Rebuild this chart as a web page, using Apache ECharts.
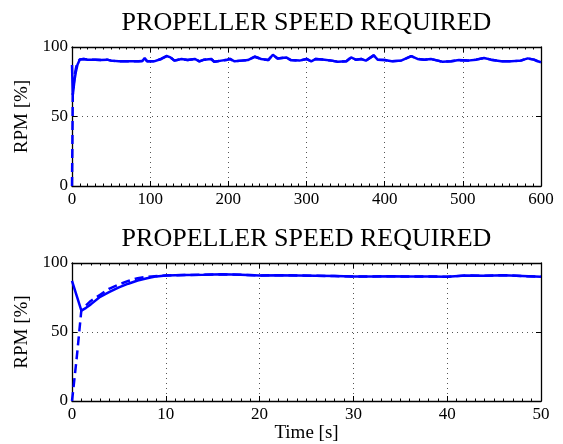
<!DOCTYPE html>
<html>
<head>
<meta charset="utf-8">
<script src="https://cdn.jsdelivr.net/npm/echarts@6/dist/echarts.min.js"></script>
<style>
  html, body { margin: 0; padding: 0; background: #fff; }
  #chart { width: 563px; height: 444px; }
</style>
</head>
<body>
<div id="chart"></div>
<script>
// top panel, whole run (0 - 600 s)
var topTime = [0, 1, 2, 3, 5, 7, 10, 15, 20, 30, 37, 45, 50, 60, 71, 85, 90, 93, 96, 105, 114, 121, 126, 131, 140, 148, 157, 163, 169, 178, 182, 191, 199,
  202, 208, 217, 225, 234, 242, 251, 257, 263, 274, 280, 291, 300, 306, 312, 323, 332, 340, 351, 357, 363, 370, 376, 386, 391, 400,
  409, 421, 434, 442, 451, 459, 468, 474, 485, 495, 506, 517, 527, 536, 549, 562, 574, 583, 591, 596, 600];
var topRpm = [87, 65.5, 70, 75.5, 82.3, 87.3, 91, 91.4, 90.9, 90.8, 90.6, 90.9, 90.2, 89.8, 89.7, 89.7, 89.9, 92, 89.8, 89.7, 91.4, 93.5, 92.5, 90.2, 91.4, 90.6, 91.4, 89.7, 90.9, 91.4, 89.4, 90.2, 90.9,
  91.4, 89.7, 90.2, 90.6, 93, 91.4, 90.6, 94.4, 91.8, 92.5, 90.6, 90.2, 91.4, 89.7, 91.4, 90.9, 90.2, 89.4, 89.7, 92.5, 90.9, 91.4, 90.2, 94, 90.9, 90.6,
  89.7, 90.2, 93.4, 91.4, 90.9, 91.4, 90.2, 89.4, 89.7, 90.6, 90.2, 90.9, 92.1, 90.9, 89.7, 89.7, 90.2, 91.8, 90.9, 89.7, 89];

// required speed start-up (dashed)
var reqTime = [0, 0.5, 1, 2, 3, 4, 5, 6, 7, 8, 10];
var reqRpm = [0, 31, 66, 72.5, 77, 81.5, 84.5, 87, 89, 90, 91];

// bottom panel, first 50 s
var zoomTime = [0, 1, 1.5, 2, 3, 4, 5, 6, 7, 8, 9, 10, 12, 14, 16, 18, 20, 22, 24, 26, 28, 30, 32, 34, 36, 38, 40, 42, 44, 46, 48, 50];
var zoomRpm = [87, 65.5, 67.5, 70, 75.5, 79, 82.3, 85, 87.3, 89, 90.3, 91, 91.3, 91.5, 91.8, 91.5, 91, 91.1, 91, 90.8, 90.5, 90.2, 90.3, 90.4, 90.2, 90.3, 90, 91, 90.7, 91.2, 90.6, 90];

function pairs(t, v) {
  var out = [];
  for (var i = 0; i < t.length; i++) out.push([t[i], v[i]]);
  return out;
}
function dashedOf(t, v) {
  var out = pairs(reqTime, reqRpm);
  for (var i = 0; i < t.length; i++) {
    if (t[i] > 10) out.push([t[i], v[i]]);
  }
  return out;
}

var font = 'Liberation Serif';
var blue = '#0000ff';
var gridDots = { color: '#555', type: [1, 4], width: 1 };

function xAx(grid, max, step, top) {
  return {
    type: 'value', gridIndex: grid, min: 0, max: max, interval: step,
    position: top ? 'top' : 'bottom',
    axisLine: { show: true, onZero: false, lineStyle: { color: '#000', width: 1.3 } },
    axisTick: { show: true, inside: true, length: 5, lineStyle: { color: '#000' } },
    minorTick: { show: true, splitNumber: 10, length: 2.5, lineStyle: { color: '#000' } },
    axisLabel: { show: !top, margin: 5, color: '#000', fontFamily: font, fontSize: 17 },
    splitLine: { show: !top, lineStyle: gridDots }
  };
}
function yAx(grid, right) {
  return {
    type: 'value', gridIndex: grid, min: 0, max: 100, interval: 50,
    position: right ? 'right' : 'left',
    axisLine: { show: true, onZero: false, lineStyle: { color: '#000', width: 1.3 } },
    axisTick: { show: true, inside: true, length: 5, lineStyle: { color: '#000' } },
    axisLabel: { show: !right, margin: 4, color: '#000', fontFamily: font, fontSize: 17 },
    splitLine: { show: !right, lineStyle: gridDots },
    name: right ? '' : 'RPM [%]', nameLocation: 'middle', nameGap: 36, nameRotate: 90,
    nameTextStyle: { color: '#000', fontFamily: font, fontSize: 19 }
  };
}

var xs = [xAx(0, 600, 100, false), xAx(0, 600, 100, true), xAx(1, 50, 10, false), xAx(1, 50, 10, true)];
xs[2].name = 'Time [s]';
xs[2].nameLocation = 'middle';
xs[2].nameGap = 23;
xs[2].nameTextStyle = { color: '#000', fontFamily: font, fontSize: 19 };

var chart = echarts.init(document.getElementById('chart'));
chart.setOption({
  animation: false,
  backgroundColor: '#fff',
  title: [
    { text: 'PROPELLER SPEED REQUIRED', left: 306.5, top: 10, textAlign: 'center', padding: 0,
      textStyle: { fontFamily: font, fontSize: 26, fontWeight: 'normal', color: '#000' } },
    { text: 'PROPELLER SPEED REQUIRED', left: 306.5, top: 226, textAlign: 'center', padding: 0,
      textStyle: { fontFamily: font, fontSize: 26, fontWeight: 'normal', color: '#000' } }
  ],
  grid: [
    { left: 72, right: 22, top: 47, height: 139 },
    { left: 72, right: 22, top: 263, height: 138 }
  ],
  xAxis: xs,
  yAxis: [yAx(0, false), yAx(0, true), yAx(1, false), yAx(1, true)],
  series: [
    { type: 'line', xAxisIndex: 0, yAxisIndex: 0, showSymbol: false, symbol: 'none',
      lineStyle: { color: blue, width: 2.5 }, data: pairs(topTime, topRpm) },
    { type: 'line', xAxisIndex: 0, yAxisIndex: 0, showSymbol: false, symbol: 'none',
      lineStyle: { color: blue, width: 2.5, type: [9, 5] }, data: dashedOf(topTime, topRpm) },
    { type: 'line', xAxisIndex: 2, yAxisIndex: 2, showSymbol: false, symbol: 'none',
      lineStyle: { color: blue, width: 2.5 }, data: pairs(zoomTime, zoomRpm) },
    { type: 'line', xAxisIndex: 2, yAxisIndex: 2, showSymbol: false, symbol: 'none',
      lineStyle: { color: blue, width: 2.5, type: [9, 5] }, data: dashedOf(zoomTime, zoomRpm) }
  ]
});
</script>
</body>
</html>
